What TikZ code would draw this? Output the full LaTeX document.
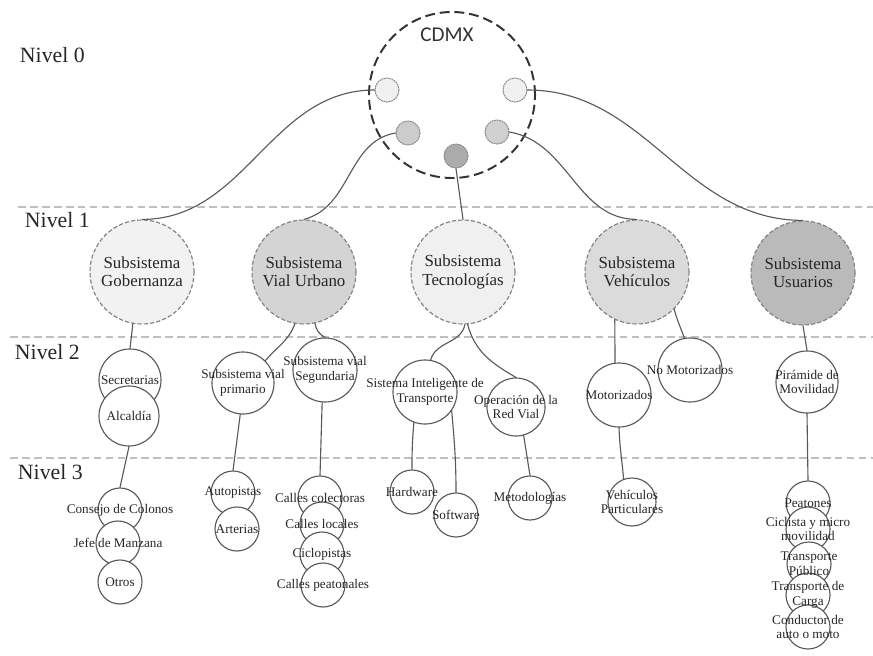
\documentclass[tikz,border=0pt]{standalone}
\usepackage{fontspec}
\setmainfont{Liberation Serif}
\newfontfamily\cdmxfont{Carlito}
\begin{document}
\begin{tikzpicture}[scale=1, line join=round, line cap=round, x=0.025cm, y=0.025cm,
  font=\fontsize{9.4}{10.5}\selectfont,
  nivel/.style={anchor=west, text=black!85, font=\fontsize{15.5}{16}\selectfont},
  sep/.style={black!25, line width=1pt, dash pattern=on 5.5pt off 3pt, line cap=butt},
  link/.style={black!65, line width=0.8pt},
  dot/.style={circle, draw=black!45, line width=0.8pt, densely dotted, minimum size=0.6cm, inner sep=0pt},
  sub/.style={circle, draw=black!50, line width=0.8pt, dash pattern=on 3pt off 1.5pt, line cap=butt, minimum size=2.6cm, inner sep=0pt, align=center, text=black!85, font=\fontsize{12}{13}\selectfont},
  ring/.style={circle, draw=black!65, fill=white, line width=0.8pt, inner sep=0pt},
  lbl/.style={align=center, text=black!85, inner sep=0pt}]
\useasboundingbox (0,0) rectangle (873,-656);
% separadores de nivel
\foreach \px/\py in {18/207,10/337,10/458} \draw[sep] (\px,-\py) -- (873,-\py);
\foreach \px/\py/\l in {15/55/0,20/220/1,10/352/2,13/472/3} \node[nivel] (niv\l) at (\px,-\py) {Nivel \l};
% nivel 0
\node[circle, draw=black!80, line width=1.4pt, dash pattern=on 7pt off 3.5pt, line cap=butt, minimum size=4.15cm] (cdmx) at (452,-95) {};
\node[text=black!80, font=\cdmxfont\fontsize{15}{15}\selectfont] (cdmx-t) at (447,-35) {CDMX};
\foreach \px/\py/\g/\nm in {387/90/6/dA,515/90/6/dE,408/133/20/dB,497/132/18/dD,456/156/33/dC}
  \node[dot, fill=black!\g] (\nm) at (\px,-\py) {};
% nivel 1
\node[sub, fill=black!5] (gob) at (142,-272) {Subsistema\\Gobernanza};
\node[sub, fill=black!17] (vial) at (304,-272) {Subsistema\\Vial Urbano};
\node[sub, fill=black!6] (tec) at (463,-272) {Subsistema\\Tecnologías};
\node[sub, fill=black!14] (veh) at (637,-272) {Subsistema\\Vehículos};
\node[sub, fill=black!27] (usu) at (803,-273) {Subsistema\\Usuarios};
% niveles 2 y 3
\def\ramas{130/380/secr/31/Secretarias, 129/416/alca/30/Alcaldía,
  243/383/vprim/31/{Subsistema vial\\primario}, 325/370/vseg/32/{Subsistema vial\\Segundaria},
  425/392/sit/32/{Sistema Inteligente de\\Transporte}, 516/407/opr/29/{Operación de la\\Red Vial},
  619/395/mot/32/Motorizados, 690/370/nomot/32/No Motorizados, 807/382/pir/31/{Pirámide de\\Movilidad},
  120/510/cons/22/Consejo de Colonos, 118/543/jefe/22/Jefe de Manzana, 120/582/otros/22/Otros,
  233/493/auto/22/Autopistas, 237/529/arte/22/Arterias,
  320/498/ccol/22/Calles colectoras, 322/524/cloc/22/Calles locales, 322/554/cicl/22/Ciclopistas, 323/585/cpea/22/Calles peatonales,
  412/492/hard/22/Hardware, 456/515/soft/22/Software, 530/498/meto/22/Metodologías,
  632/502/vpar/24/{Vehículos\\Particulares},
  808/503/peat/22/Peatones, 808/529/cicm/22/{Ciclista y micro\\movilidad}, 809/564/tpub/22/{Transporte\\Público},
  808/595/tcar/22/{Transporte de\\Carga}, 808/627/cond/22/{Conductor de\\auto o moto}}
\foreach \px/\py/\nm/\r/\txt in \ramas \node[ring, minimum size={\r*0.05cm}] (\nm) at (\px,-\py) {};
% conectores
\draw[link] (dA.west) to[out=180,in=0] (gob.north);
\draw[link] (dB.west) to[out=190,in=15] (vial.north);
\draw[link] (dC.south) -- (tec.north);
\draw[link] (dD.east) to[out=-10,in=180] (veh.north);
\draw[link] (dE.east) to[out=0,in=180] (usu.north);
\draw[link] (gob.-100) -- (secr.north);
\draw[link] (vial.-100) to[out=-110,in=50] (vprim.45);
\draw[link] (vial.-78) to[out=-80,in=150] (vseg.north);
\draw[link] (tec.-88) to[out=-100,in=75] (sit.80);
\draw[link] (tec.-85) to[out=-75,in=150] (opr.north);
\draw[link] (veh.-115) -- (mot.97);
\draw[link] (veh.-45) to[out=-75,in=110] (nomot.100);
\draw[link] (usu.south) -- (pir.north);
\draw[link] (alca.south) -- (cons.north);
\draw[link] (vprim.-95) -- (auto.north);
\draw[link] (vseg.-95) -- (ccol.north);
\draw[link] (sit.-110) to[out=-95,in=90] (hard.north);
\draw[link] (sit.-35) to[out=-85,in=90] (soft.north);
\draw[link] (opr.-75) -- (meto.north);
\draw[link] (mot.-90) to[out=-88,in=95] (vpar.110);
\draw[link] (pir.south) -- (peat.north);
% textos encima
\foreach \px/\py/\nm/\r/\txt in \ramas \node[lbl] (\nm-t) at (\nm) {\txt};
\end{tikzpicture}
\end{document}
